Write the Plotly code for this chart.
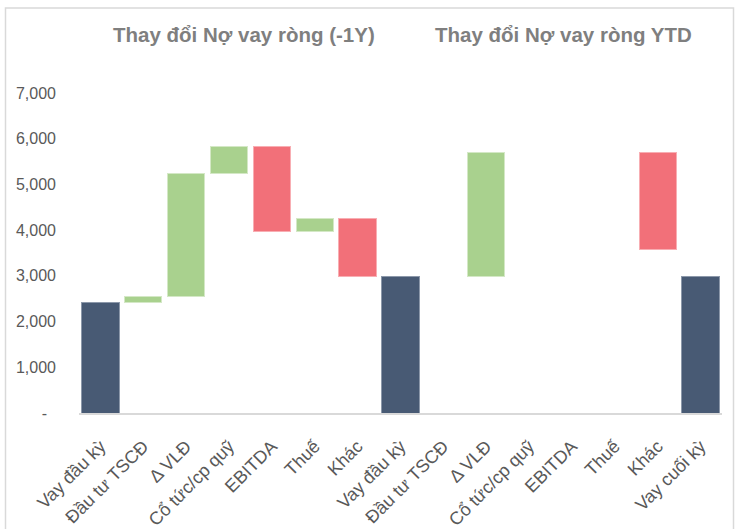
import plotly.graph_objects as go

# ---- data ----
categories = ["Vay đầu kỳ", "Đầu tư TSCĐ", "Δ VLĐ", "Cổ tức/cp quỹ", "EBITDA", "Thuế", "Khác",
              "Vay đầu kỳ", "Đầu tư TSCĐ", "Δ VLĐ", "Cổ tức/cp quỹ", "EBITDA", "Thuế", "Khác",
              "Vay cuối kỳ"]
base_values     = [None, 2410, 2538, 5235, 3973, 3973, 2992, None, None, 2992, None, None, None, 3573, None]
total_values    = [2410, None, None, None, None, None, None, 2992, None, None, None, None, None, None, 2992]
increase_values = [None, 128, 2697, 605, None, 284, None, None, None, 2709, None, None, None, None, None]
decrease_values = [None, None, None, None, 1867, None, 1265, None, None, None, None, None, None, 2128, None]
panel_titles = ["Thay đổi Nợ vay ròng (-1Y)", "Thay đổi Nợ vay ròng YTD"]
y_tick_values = [0, 1000, 2000, 3000, 4000, 5000, 6000, 7000]
y_tick_labels = ["-\u00a0\u00a0", "1,000", "2,000", "3,000", "4,000", "5,000", "6,000", "7,000"]

x_pos = list(range(len(categories)))

W, H = 749, 529
ML, MR, MT, MB = 79, 27, 93, 116
PW, PH = W - ML - MR, H - MT - MB

def px_to_paper_x(px):
    return (px - ML) / PW

def px_to_paper_y(py):
    return (H - MB - py) / PH

fig = go.Figure()
bar_w = 0.87
fig.add_trace(go.Bar(x=x_pos, y=base_values, width=bar_w,
                     marker=dict(color="rgba(0,0,0,0)", line=dict(width=0)),
                     hoverinfo="skip", showlegend=False))
for vals, col, edge in [(total_values, "#485A74", "#8C98AA"),
                        (increase_values, "#A9D18E", "#D4E8C6"),
                        (decrease_values, "#F27079", "#F8AEB3")]:
    fig.add_trace(go.Bar(x=x_pos, y=vals, width=bar_w,
                         marker=dict(color=col, line=dict(color=edge, width=1)),
                         showlegend=False))

fig.update_layout(
    template="none",
    width=W, height=H, barmode="stack",
    margin=dict(l=ML, r=MR, t=MT, b=MB, autoexpand=False),
    paper_bgcolor="white", plot_bgcolor="white",
    font=dict(family="Liberation Sans, Arial, sans-serif", color="#595959"),
    xaxis=dict(range=[-0.5, len(categories) - 0.5], tickmode="array", tickvals=x_pos,
               ticktext=categories, tickangle=-45, tickfont=dict(size=18, color="#595959"),
               showline=True, linecolor="#D9D9D9", linewidth=1.5, showgrid=False,
               zeroline=False, ticks="", ticklabelstandoff=14, automargin=False),
    yaxis=dict(range=[0, 7000], tickmode="array", tickvals=y_tick_values,
               ticktext=y_tick_labels, tickfont=dict(size=16, color="#595959"),
               showgrid=False, zeroline=False, showline=False, ticks="",
               ticklabelstandoff=22, automargin=False),
)

title_centers = [244, 563]
for t, cx in zip(panel_titles, title_centers):
    fig.add_annotation(text="<b>%s</b>" % t, xref="paper", yref="paper",
                       x=px_to_paper_x(cx), y=px_to_paper_y(34), xanchor="center",
                       yanchor="middle", showarrow=False,
                       font=dict(size=20.5, color="#7F7F7F",
                                 family="Liberation Sans, Arial, sans-serif"))

fig.add_shape(type="rect", xref="paper", yref="paper",
              x0=px_to_paper_x(5.5), x1=px_to_paper_x(733.5),
              y0=px_to_paper_y(545), y1=px_to_paper_y(8),
              line=dict(color="#D9D9D9", width=1.5), fillcolor="rgba(0,0,0,0)", layer="below")

fig.write_html("out.html", config={"displayModeBar": False},
               post_script="document.body.style.margin='0';document.body.style.padding='0';")
